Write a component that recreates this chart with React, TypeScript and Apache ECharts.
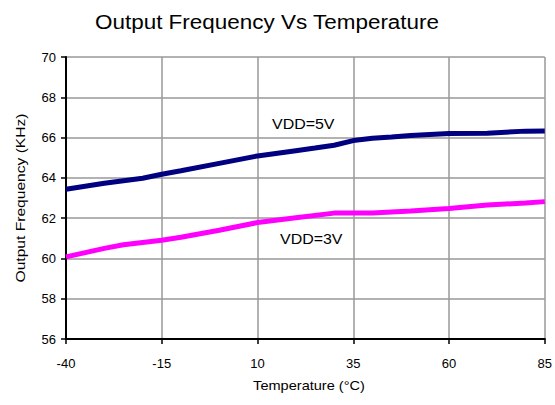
import React, { useEffect, useRef } from "react";
import * as echarts from "echarts";

const title = "Output Frequency Vs Temperature";
const xAxisName = "Temperature (°C)";
const yAxisName = "Output Frequency (KHz)";

const temps5V = [-40, -30, -20, -15, -10, 0, 10, 20, 25, 30, 35, 40, 45, 50, 60, 70, 80, 85];
const freq5V = [63.43, 63.73, 63.98, 64.18, 64.35, 64.72, 65.09, 65.35, 65.48, 65.62, 65.85, 65.97, 66.03, 66.1, 66.2, 66.22, 66.32, 66.33];

const temps3V = [-40, -30, -25, -15, -10, 0, 10, 20, 30, 40, 45, 50, 60, 70, 80, 85];
const freq3V = [60.08, 60.5, 60.68, 60.9, 61.05, 61.4, 61.78, 62.02, 62.25, 62.25, 62.3, 62.35, 62.48, 62.65, 62.75, 62.82];

const label5V = "VDD=5V";
const label3V = "VDD=3V";

const FONT = "Liberation Sans, Arial, sans-serif";

function txt(text: string, x: number, y: number, size: number, sx: number, align: string, rotation = 0) {
  return {
    type: "text",
    x,
    y,
    scaleX: sx,
    rotation,
    z: 10,
    style: {
      text,
      fontFamily: FONT,
      fontSize: size,
      fill: "#000",
      align,
      verticalAlign: "middle",
      textAlign: align,
      textVerticalAlign: "middle",
    },
  };
}

export default function App() {
  const ref = useRef<HTMLDivElement>(null);
  useEffect(() => {
    if (!ref.current) return;
    const chart = echarts.init(ref.current, undefined, { renderer: "svg" });
    chart.setOption({
      animation: false,
      backgroundColor: "#ffffff",
      textStyle: { fontFamily: FONT },
      grid: { left: 66, right: 8, top: 57, bottom: 66, containLabel: false },
      xAxis: {
        type: "value",
        min: -40,
        max: 85,
        interval: 25,
        axisLine: { show: true, onZero: false, lineStyle: { color: "#000", width: 2 } },
        axisTick: { show: true, length: 5, lineStyle: { color: "#000", width: 1.5 } },
        axisLabel: { fontFamily: FONT, fontSize: 13, color: "#000", margin: 18 },
        splitLine: { show: true, lineStyle: { color: "#999", width: 1.5 } },
      },
      yAxis: {
        type: "value",
        min: 56,
        max: 70,
        interval: 2,
        axisLine: { show: true, onZero: false, lineStyle: { color: "#000", width: 2 } },
        axisTick: { show: true, length: 5, lineStyle: { color: "#000", width: 1.5 } },
        axisLabel: { fontFamily: FONT, fontSize: 13, color: "#000", margin: 10 },
        splitLine: { show: true, lineStyle: { color: "#999", width: 1.5 } },
      },
      series: [
        {
          name: label5V,
          type: "line",
          data: temps5V.map((t, i) => [t, freq5V[i]]),
          showSymbol: false,
          symbol: "none",
          lineStyle: { color: "#000080", width: 5 },
          z: 3,
        },
        {
          name: label3V,
          type: "line",
          data: temps3V.map((t, i) => [t, freq3V[i]]),
          showSymbol: false,
          symbol: "none",
          lineStyle: { color: "#FF00FF", width: 5 },
          z: 3,
        },
      ],
      graphic: [
        txt(title, 267, 22, 21, 1.07, "center"),
        txt(label5V, 272, 124, 14, 1.14, "left"),
        txt(label3V, 280, 239, 14, 1.14, "left"),
        txt(xAxisName, 309, 386, 13, 1.12, "center"),
        txt(yAxisName, 20, 198, 13, 1.2, "center", Math.PI / 2),
      ],
    });
    return () => chart.dispose();
  }, []);
  return (
    <div
      ref={ref}
      style={{ position: "absolute", left: 0, top: 0, width: 555, height: 405 }}
    />
  );
}
